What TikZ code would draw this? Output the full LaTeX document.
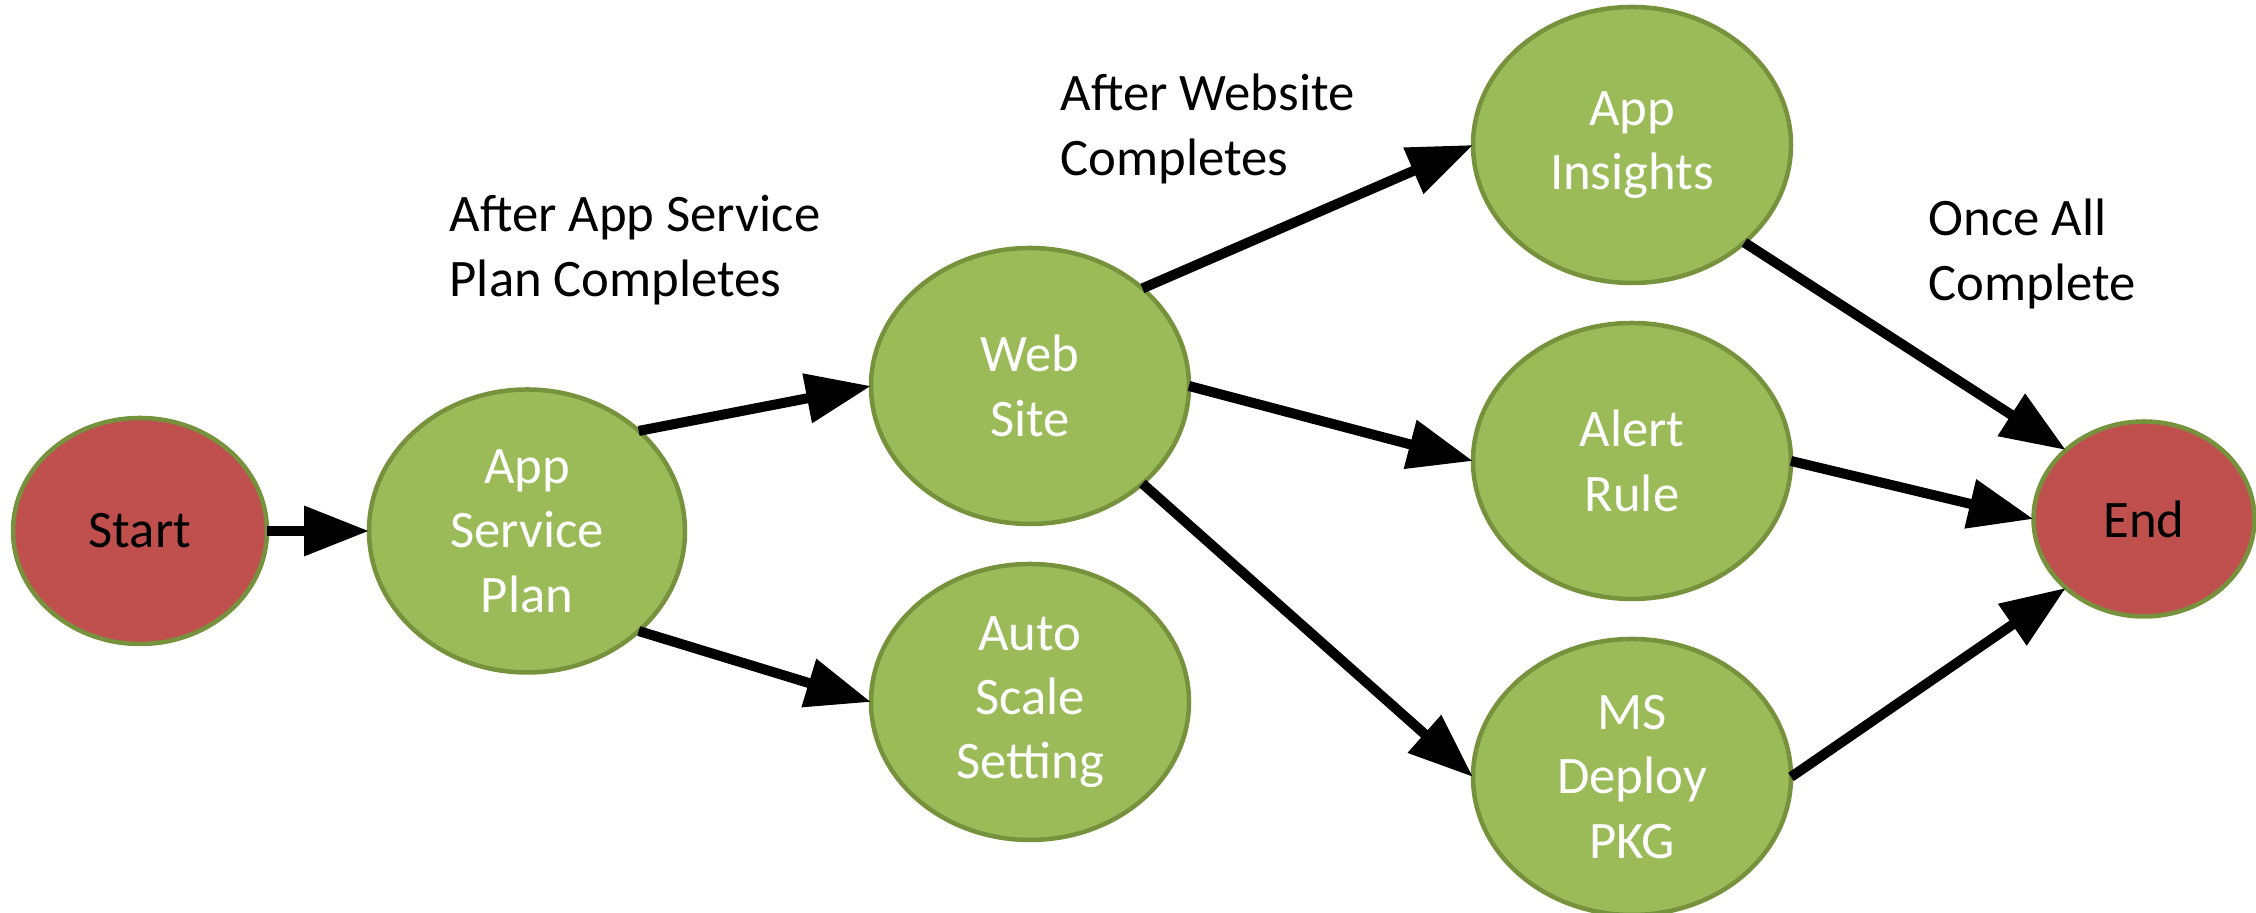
\documentclass[tikz,border=0pt]{standalone}
\usepackage{fontspec}
\setmainfont{Carlito}
\usetikzlibrary{arrows.meta, positioning, shapes.geometric}

\definecolor{taskgreen}{RGB}{155,187,89}
\definecolor{taskred}{RGB}{192,80,77}
\definecolor{taskborder}{RGB}{118,146,60}

\begin{document}
\begin{tikzpicture}[
        task/.style={
            ellipse,
            draw=taskborder,
            line width=0.045cm,
            fill=taskgreen,
            text=white,
            minimum width=3.18cm,
            minimum height=2.76cm,
            inner sep=0pt,
            outer sep=0pt,
            align=center,
            font=\fontsize{15}{18.3}\selectfont
        },
        terminal/.style={
            task,
            fill=taskred,
            text=black
        },
        flow/.style={
            -{Triangle[length=6.5mm, width=4.8mm]},
            line width=0.1cm,
            black
        },
        note/.style={
            anchor=west,
            align=left,
            inner sep=0pt,
            font=\fontsize{15}{18.3}\selectfont
        },
        node distance=0.4cm
    ]

        \useasboundingbox (0,0) rectangle (22.56,9.13);

        % ---------------------------------------------------------------------
        % Deployment steps
        % ---------------------------------------------------------------------

        \node[
            terminal,
            minimum width=2.54cm,
            minimum height=2.26cm
        ] (start) at (1.40,3.82) {Start};

        \node[
            task,
            minimum width=3.16cm,
            minimum height=2.83cm
        ] (plan) at (5.27,3.82) {App\\Service\\Plan};

        \node[task] (website) at (10.30,5.27) {Web\\Site};

        \node[
            task,
            below=of website
        ] (autoscale) {Auto\\Scale\\Setting};

        \node[task] (insights) at (16.32,7.68) {App\\Insights};

        \node[
            task,
            below=of insights
        ] (alert) {Alert\\Rule};

        \node[
            task,
            below=of alert
        ] (deploy) {MS\\Deploy\\PKG};

        \node[
            terminal,
            minimum width=2.21cm,
            minimum height=1.95cm
        ] (finish) at (21.44,3.94) {End};

        % ---------------------------------------------------------------------
        % Dependencies
        % ---------------------------------------------------------------------

        \draw[flow] (start.east) -- (plan.west);

        \draw[flow] (plan.north east) -- (website.west);
        \draw[flow] (plan.south east) -- (autoscale.west);

        \draw[flow] (website.north east) -- (insights.west);
        \draw[flow] (website.east) -- (alert.west);
        \draw[flow] (website.south east) -- (deploy.west);

        \draw[flow] (insights.south east) -- (finish.north west);
        \draw[flow] (alert.east) -- (finish.west);
        \draw[flow] (deploy.east) -- (finish.south west);

        % ---------------------------------------------------------------------
        % Stage notes
        % ---------------------------------------------------------------------

        \node[note] (planNote) at (4.49,6.63) {
            After App Service\\
            Plan Completes
        };

        \node[note] (siteNote) at (10.60,7.84) {
            After Website\\
            Completes
        };

        \node[note] (allNote) at (19.28,6.59) {
            Once All\\
            Complete
        };

    \end{tikzpicture}
\end{document}
